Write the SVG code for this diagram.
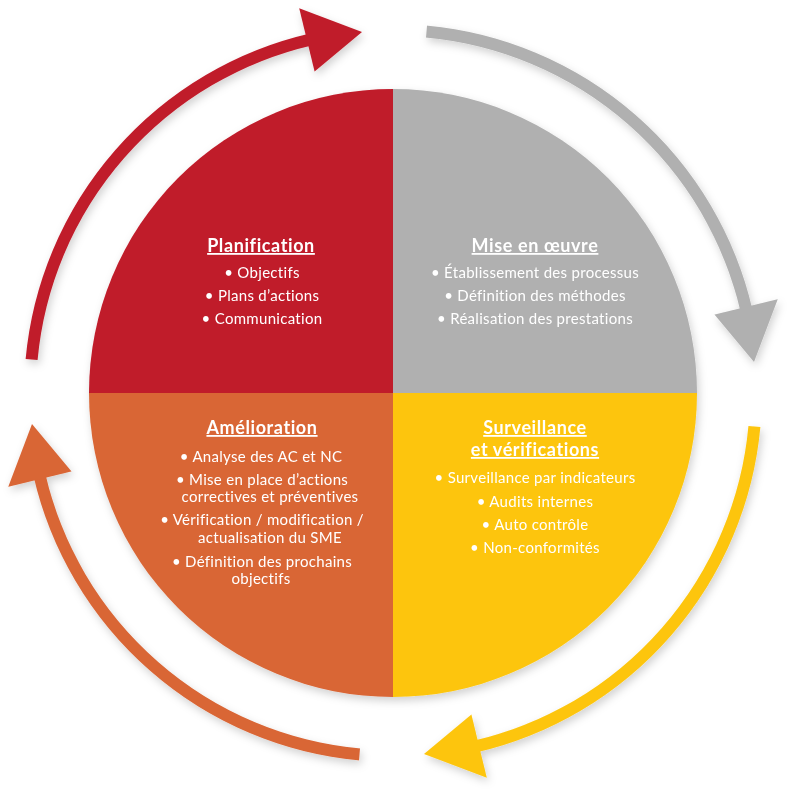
<svg xmlns="http://www.w3.org/2000/svg" width="800" height="800" viewBox="0 0 800 800">
<defs>
<filter id="sh" x="-20%" y="-20%" width="140%" height="140%">
<feDropShadow dx="2" dy="4" stdDeviation="4" flood-color="#000" flood-opacity="0.18"/>
</filter>
<g id="arrow">
<path d="M31.6,359.5 A363,363 0 0 1 311.3,39.3" fill="none" stroke-width="12"/>
<polygon points="299.2,8.3 362,32 314.6,71.4" stroke="none"/>
</g>
</defs>
<style>
.t{font-family:Lato,"Open Sans","Liberation Sans",sans-serif;fill:#fff;text-anchor:middle}
.h{font-size:18px;font-weight:bold;text-decoration:underline;letter-spacing:0.6px}
.b{font-size:15px;letter-spacing:0.3px}
</style>
<rect width="800" height="800" fill="#fff"/>
<g id="connectors" filter="url(#sh)">
<use href="#arrow" fill="#C01B2A" stroke="#C01B2A"/>
<use href="#arrow" fill="#B0B0B0" stroke="#B0B0B0" transform="rotate(90 393 393)"/>
<use href="#arrow" fill="#FDC50C" stroke="#FDC50C" transform="rotate(180 393 393)"/>
<use href="#arrow" fill="#D96636" stroke="#D96636" transform="rotate(270 393 393)"/>
</g>
<g filter="url(#sh)">
<g id="planification">
<path d="M393,393 L89,393 A304,304 0 0 1 393,89 Z" fill="#C01B2A"/>
<text class="t h" x="261" y="252">Planification</text>
<text class="t b" x="262" y="278">• Objectifs</text>
<text class="t b" x="262" y="301">• Plans d’actions</text>
<text class="t b" x="262" y="324">• Communication</text>
</g>
<g id="mise-en-oeuvre">
<path d="M393,393 L393,89 A304,304 0 0 1 697,393 Z" fill="#B0B0B0"/>
<text class="t h" x="535" y="252">Mise en œuvre</text>
<text class="t b" x="535" y="278">• Établissement des processus</text>
<text class="t b" x="535" y="301">• Définition des méthodes</text>
<text class="t b" x="535" y="324">• Réalisation des prestations</text>
</g>
<g id="surveillance">
<path d="M393,393 L697,393 A304,304 0 0 1 393,697 Z" fill="#FDC50C"/>
<text class="t h" x="535" y="434">Surveillance</text>
<text class="t h" x="535" y="456">et vérifications</text>
<text class="t b" x="535" y="483">• Surveillance par indicateurs</text>
<text class="t b" x="535" y="507">• Audits internes</text>
<text class="t b" x="535" y="530">• Auto contrôle</text>
<text class="t b" x="535" y="553">• Non-conformités</text>
</g>
<g id="amelioration">
<path d="M393,393 L393,697 A304,304 0 0 1 89,393 Z" fill="#D96636"/>
<text class="t h" x="262" y="434">Amélioration</text>
<text class="t b" x="261" y="462">• Analyse des AC et NC</text>
<text class="t b" x="262" y="485">• Mise en place d’actions</text>
<text class="t b" x="270" y="502">correctives et préventives</text>
<text class="t b" x="262" y="525">• Vérification / modification /</text>
<text class="t b" x="270" y="543">actualisation du SME</text>
<text class="t b" x="262" y="567">• Définition des prochains</text>
<text class="t b" x="261" y="584">objectifs</text>
</g>
</g>
</svg>
